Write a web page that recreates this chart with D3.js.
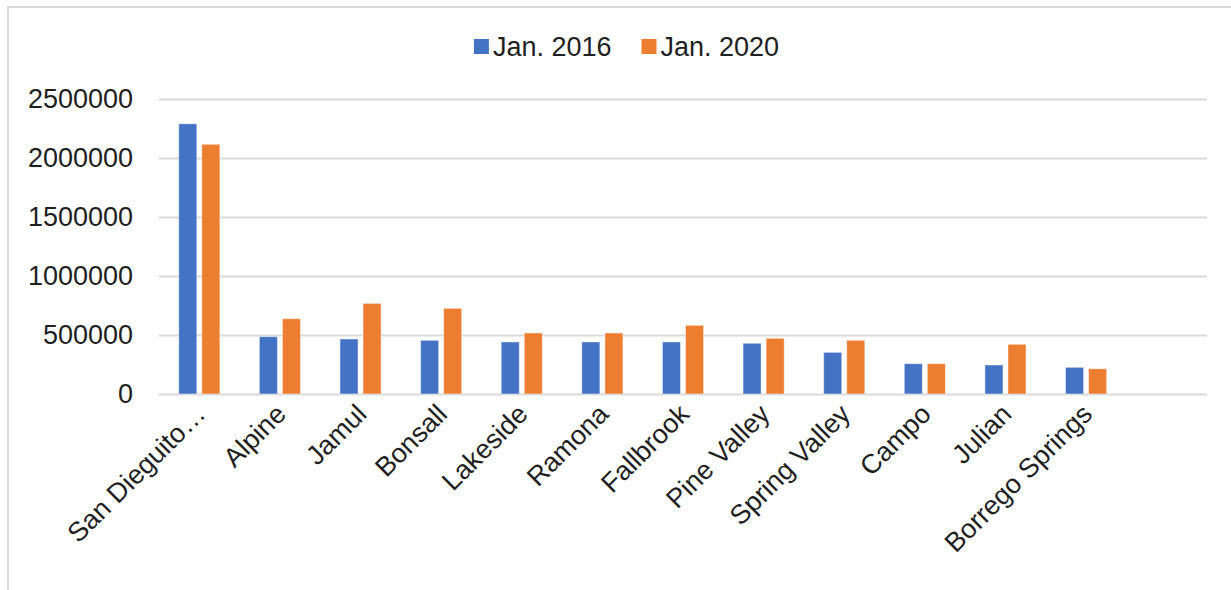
<!DOCTYPE html>
<html>
<head>
<meta charset="utf-8">
<script src="https://cdn.jsdelivr.net/npm/d3@7"></script>
<style>
  html, body { margin: 0; padding: 0; background: #fff; }
  svg { display: block; }
  text { font-family: "Liberation Sans", Arial, sans-serif; }
</style>
</head>
<body>
<svg id="chart" width="1231" height="590"></svg>
<script>
const categories = ["San Dieguito…", "Alpine", "Jamul", "Bonsall", "Lakeside", "Ramona", "Fallbrook", "Pine Valley", "Spring Valley", "Campo", "Julian", "Borrego Springs"];
const seriesNames = ["Jan. 2016", "Jan. 2020"];
const values2016 = [2290000, 486000, 466000, 455000, 441000, 441000, 441000, 430000, 353000, 257000, 246000, 226000];
const values2020 = [2116000, 638000, 768000, 726000, 517000, 517000, 582000, 472000, 455000, 257000, 421000, 214000];
const yTicks = [0, 500000, 1000000, 1500000, 2000000, 2500000];
const colors = ["#4472C4", "#ED7D31"];

const svg = d3.select("#chart");

// chart frame (extends past the picture on right/bottom)
svg.append("rect").attr("x", 8).attr("y", 7).attr("width", 1237).attr("height", 620)
  .attr("fill", "#fff").attr("stroke", "#d9d9d9").attr("stroke-width", 2);

const plotLeft = 159, plotRight = 1207, plotTop = 99, plotBottom = 394;
const slots = categories.concat([""]); // trailing empty category slot
const x0 = d3.scaleBand().domain(slots).range([plotLeft, plotRight]).paddingInner(0.49).paddingOuter(0.245);
const x1 = d3.scaleBand().domain(seriesNames).range([0, x0.bandwidth()]).paddingInner(0.217);
const y = d3.scaleLinear().domain([0, 2500000]).range([plotBottom, plotTop]);

// gridlines + y labels
const yAxis = svg.append("g").attr("transform", `translate(${plotLeft},0)`)
  .call(d3.axisLeft(y).tickValues(yTicks).tickSize(-(plotRight - plotLeft)).tickPadding(26).tickFormat(d3.format("d")));
yAxis.select(".domain").remove();
yAxis.selectAll(".tick line").attr("stroke", "#d9d9d9").attr("stroke-width", 2);
yAxis.selectAll(".tick text").attr("fill", "#1f1f1f").style("font-size", "27px")
  .style("font-family", "'Liberation Sans', Arial, sans-serif");

// bars
const data = categories.map((c, i) => ({ cat: c, vals: [values2016[i], values2020[i]] }));
const groups = svg.append("g").selectAll("g").data(data).join("g")
  .attr("transform", d => `translate(${x0(d.cat)},0)`);
groups.selectAll("rect").data(d => d.vals.map((v, j) => ({ s: seriesNames[j], v, j })))
  .join("rect")
  .attr("x", d => x1(d.s))
  .attr("width", x1.bandwidth())
  .attr("y", d => y(d.v))
  .attr("height", d => y(0) - y(d.v))
  .attr("fill", d => colors[d.j])
  .attr("stroke", "#ffffff").attr("stroke-opacity", 0.45).attr("stroke-width", 1);

// x axis labels
const xAxis = svg.append("g").attr("transform", `translate(0,${plotBottom})`)
  .call(d3.axisBottom(x0).tickSize(0).tickFormat(d => d));
xAxis.select(".domain").remove();
xAxis.selectAll(".tick text")
  .attr("fill", "#1f1f1f").style("font-size", "27px")
  .style("font-family", "'Liberation Sans', Arial, sans-serif")
  .attr("text-anchor", "end")
  .attr("y", 0).attr("dy", "0.35em")
  .attr("transform", "translate(1,15) rotate(-45)");

// legend
const legend = svg.append("g");
const items = legend.selectAll("g").data(seriesNames).join("g");
items.append("rect").attr("width", 15).attr("height", 15).attr("y", -8).attr("fill", (d, i) => colors[i]);
items.append("text").attr("x", 19).attr("dy", "0.35em").text(d => d)
  .attr("fill", "#1f1f1f").style("font-size", "27px");
let xpos = 0;
items.each(function () {
  const g = d3.select(this);
  g.attr("transform", `translate(${xpos},0)`);
  const w = 19 + g.select("text").node().getComputedTextLength();
  xpos += w + 30;
});
const totalW = xpos - 30;
legend.attr("transform", `translate(${626.5 - totalW / 2},47)`);
</script>
</body>
</html>
